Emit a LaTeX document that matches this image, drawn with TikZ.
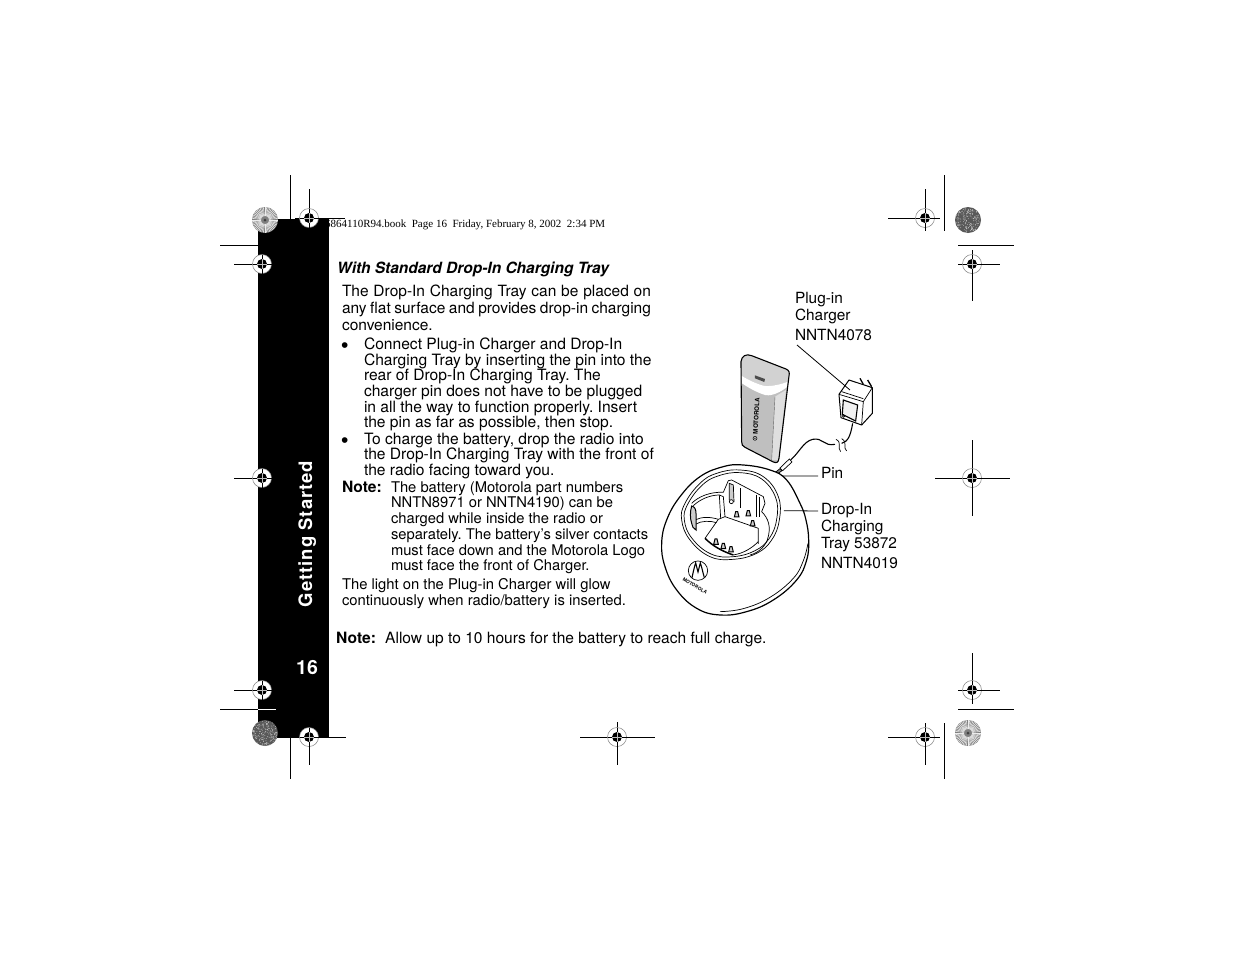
\documentclass[tikz,border=0pt]{standalone}
\usepackage{fontspec}
\setmainfont{TeX Gyre Heros}
\newfontfamily\serifhead{Liberation Serif}
\newfontfamily\bulletfont{Liberation Sans}
\tikzset{
  textblock/.style={anchor=north west,inner sep=0pt,outer sep=0pt,align=left,font=\frenchspacing\fontsize{15.6}{15.6}\selectfont},
  noteblock/.style={textblock,font=\frenchspacing\fontsize{14.75}{15.7}\selectfont},
  calloutblock/.style={textblock,font=\frenchspacing\fontsize{15.4}{17}\selectfont},
  bulletmark/.style={anchor=base west,inner sep=0pt,outer sep=0pt,font=\bulletfont\fontsize{21}{21}\selectfont},
  leader/.style={black,line width=0.8pt},
  part/.style={black,line width=0.7pt},
  cut/.style={black,line width=0.8pt}
}
\begin{document}
\begin{tikzpicture}[x=1pt,y=-1pt]
\useasboundingbox [fill=white] (0,0) rectangle (1235,954);

% page header, cut off by the black band
\node [anchor=base west,inner sep=0pt,font=\serifhead\fontsize{11}{12}\selectfont] (header) at (325,227) {6864110R94.book\ \ Page 16\ \ Friday, February 8, 2002\ \ 2:34 PM};

% black band
\fill [black] (258,219) rectangle (328.5,738);
\node [rotate=90,anchor=base west,inner sep=0pt,text=white,font=\bfseries\fontsize{18.5}{19}\selectfont] (bandtitle) at (312,607.5) {G\kern1pt e\kern1pt t\kern1pt t\kern1pt i\kern1pt n\kern1pt g\kern1pt\ S\kern1pt t\kern1pt a\kern1pt r\kern1pt t\kern1pt e\kern1pt d};
\node [anchor=base,inner sep=0pt,text=white,font=\bfseries\fontsize{19.5}{20}\selectfont] (pagenum) at (307,674) {16};

% crop lines
\draw [cut] (290,175) -- (290,219);
\draw [cut] (220,245) -- (258,245);
\draw [cut] (220,709) -- (258,709);
\draw [white,line width=0.8pt] (258,709) -- (276,709);
\draw [cut] (290,738) -- (290,779);
\draw [cut] (944,175) -- (944,231);
\draw [cut] (958,245) -- (1014,245);
\draw [cut] (958,709) -- (1014,709);
\draw [cut] (944,723) -- (944,779);

% line parts of the register marks
\draw [cut] (309,189) -- (309,219);
\draw [cut] (295,218) -- (345,218);
\draw [cut] (234,264) -- (258,264);
\draw [cut] (234,478) -- (258,478);
\draw [cut] (234,690) -- (258,690);
\draw [cut] (328,737) -- (346,737);
\draw [cut] (309,738) -- (309,765);
\draw [cut] (580,737) -- (655,737);
\draw [cut] (617,722) -- (617,765);
\draw [cut] (888,218) -- (940,218);
\draw [cut] (925,189) -- (925,231);
\draw [cut] (958,264) -- (1000,264);
\draw [cut] (972,250) -- (972,301);
\draw [cut] (935,478) -- (1010,478);
\draw [cut] (972,440) -- (972,516);
\draw [cut] (958,690) -- (1000,690);
\draw [cut] (972,653) -- (972,704);
\draw [cut] (888,737) -- (940,737);
\draw [cut] (925,723) -- (925,765);

% register marks
\foreach \mx/\my in {309/218,262/264,262/478,262/690,309/737,617/737,925/218,972/264,972/478,972/690,925/737} {
  \draw [gray,fill=white,line width=0.5pt] (\mx,\my) circle [radius=9.5];
  \draw [black,line width=0.8pt] (\mx-9.5,\my) -- (\mx+9.5,\my);
  \draw [black,line width=0.8pt] (\mx,\my-9.5) -- (\mx,\my+9.5);
  \fill [black] (\mx,\my) circle [radius=5];
  \draw [gray!50,line width=0.3pt] (\mx-5,\my) -- (\mx+5,\my);
  \draw [gray!50,line width=0.3pt] (\mx,\my-5) -- (\mx,\my+5);
}

% star targets
\foreach \sx/\sy in {265/220,968/733} {
  \fill [black!50] (\sx,\sy) circle [radius=13];
  \foreach \ang in {0,7.5,...,352.5}
    \draw [white!85!gray,line width=0.55pt] (\sx,\sy) ++(\ang:4) -- ++(\ang:8.7);
  \fill [black!75] (\sx,\sy) circle [radius=1.5];
}
\pgfmathsetseed{16}
\foreach \sx/\sy in {968/220,265/733} {
  \fill [black!65] (\sx,\sy) circle [radius=13];
  \foreach \n in {1,...,170} {
    \pgfmathsetmacro{\ang}{360*rnd}
    \pgfmathsetmacro{\rad}{12.5*sqrt(rnd)}
    \fill [white!70!gray] (\sx,\sy) ++(\ang:\rad) circle [radius=0.4];
  }
}

% main text
\node [anchor=base west,inner sep=0pt,font=\bfseries\itshape\fontsize{15.5}{16}\selectfont] (subhead) at (337,273) {With Standard Drop-In Charging Tray};
\node [calloutblock,font=\frenchspacing\fontsize{15.5}{17}\selectfont] (intro) at (342,285) {{\spaceskip=4.8pt The Drop-In Charging Tray can be placed on}\\{\spaceskip=3.5pt any flat surface and provides drop-in charging}\\convenience.};
\node [bulletmark] (bulletone) at (341,352) {•};
\node [textblock] (stepone) at (364,338) {Connect Plug-in Charger and Drop-In\\Charging Tray by inserting the pin into the\\rear of Drop-In Charging Tray. The\\charger pin does not have to be plugged\\in all the way to function properly. Insert\\the pin as far as possible, then stop.};
\node [bulletmark] (bullettwo) at (341,447) {•};
\node [textblock] (steptwo) at (364,433) {To charge the battery, drop the radio into\\the Drop-In Charging Tray with the front of\\the radio facing toward you.};
\node [textblock,font=\bfseries\fontsize{15.6}{16}\selectfont] (notehead) at (342,481) {Note:};
\node [noteblock] (notebody) at (391,481.5) {The battery (Motorola part numbers\\NNTN8971 or NNTN4190) can be\\charged while inside the radio or\\separately. The battery’s silver contacts\\must face down and the Motorola Logo\\must face the front of Charger.};
\node [noteblock,font=\frenchspacing\fontsize{14.8}{16}\selectfont] (lightnote) at (342,578) {The light on the Plug-in Charger will glow\\continuously when radio/battery is inserted.};
\node [anchor=base west,inner sep=0pt,font=\bfseries\fontsize{15.6}{16}\selectfont] (lasthead) at (336,643) {Note:};
\node [anchor=base west,inner sep=0pt,font=\fontsize{15.55}{16}\selectfont] (lastbody) at (385,643) {Allow up to 10 hours for the battery to reach full charge.};

% callouts
\node [calloutblock] (chargerlabel) at (795,292) {Plug-in\\Charger};
\node [calloutblock] (chargercode) at (795,329) {NNTN4078};
\node [calloutblock] (pinlabel) at (821,467) {Pin};
\node [calloutblock] (traylabel) at (821,503) {Drop-In\\Charging\\Tray 53872};
\node [calloutblock] (traycode) at (821,557) {NNTN4019};

% artwork, in units of a third of a pixel
\begin{scope}[shift={(660,340)},x=0.3333pt,y=-0.3333pt]
  % radio
  \fill [gray!50] (243,65) .. controls (245,48) and (258,40) .. (275,47) -- (378,87) .. controls (388,91) and (389,98) .. (387,108) -- (357,355) .. controls (355,368) and (350,370) .. (340,366) -- (255,322) .. controls (247,318) and (245,314) .. (245,305) -- cycle;
  \fill [gray!35] (243,65) .. controls (245,48) and (258,40) .. (275,47) -- (378,87) .. controls (388,91) and (389,98) .. (387,108) -- (384,125) .. controls (350,138) and (320,140) .. (310,137) .. controls (285,130) and (262,118) .. (244,107) -- cycle;
  \fill [white] (244,107) .. controls (262,118) and (285,130) .. (310,137) .. controls (320,140) and (350,138) .. (384,125) -- (380,142) .. controls (350,165) and (325,168) .. (315,165) .. controls (290,157) and (265,143) .. (246,130) -- cycle;
  \fill [gray!25] (345,170) -- (378,150) -- (355,360) -- (335,360) -- cycle;
  \fill [black!70] (285,106) -- (315,117) -- (313,126) -- (285,115) -- cycle;
  \draw [part,line width=1.1pt,line join=round] (243,65) .. controls (245,48) and (258,40) .. (275,47) -- (378,87) .. controls (388,91) and (389,98) .. (387,108) -- (357,355) .. controls (355,368) and (350,370) .. (340,366) -- (255,322) .. controls (247,318) and (245,314) .. (245,305) -- cycle;
  \draw [black!60,line width=0.4pt] (345,170) -- (335,360);
  \node [rotate=87,inner sep=0pt,font=\bfseries\fontsize{6.2}{7}\selectfont] (radiologo) at (289,228) {MOTOROLA};
  \draw [black,line width=0.5pt] (285,295) circle [radius=6];
  \fill [black] (285,295) circle [radius=2];

  % plug-in charger
  \draw [part,line width=1pt,line join=round,fill=white] (537,163) -- (567,120) -- (637,143) -- (637,220) -- (605,255) -- (543,233) -- cycle;
  \draw [part,line join=round] (537,163) -- (610,185) -- (637,143);
  \draw [part] (610,185) -- (605,255);
  \draw [part] (545,155) -- (610,176);
  \draw [part,line width=1.1pt,fill=gray!10] (550,180) -- (593,195) -- (587,243) -- (547,223) -- cycle;
  \draw [line width=1.3pt] (600,115) -- (610,133);
  \draw [line width=1.3pt] (623,120) -- (635,140);
  \draw [part] (551,228) circle [radius=4];

  % cord and pin
  \draw [black,line width=1.1pt] (578,250) .. controls (572,285) and (565,305) .. (545,310);
  \draw [black,line width=1.1pt] (525,313) .. controls (490,320) and (490,292) .. (458,298) .. controls (430,305) and (420,335) .. (392,360);
  \draw [part] (528,298) .. controls (548,308) and (530,322) .. (542,335);
  \draw [part] (545,296) .. controls (565,308) and (547,322) .. (560,333);
  \draw [part,fill=white] (388,357) -- (396,366) -- (368,392) -- (360,384) -- cycle;
  \draw [part,fill=gray] (360,386) -- (366,392) -- (352,402) -- (346,397) -- cycle;

  % tray
  \draw [black,line width=1.2pt,fill=white] plot [smooth cycle,tension=0.7] coordinates {(190,380) (250,375) (330,390) (380,420) (420,490) (438,540) (446,600) (440,660) (410,720) (340,780) (260,815) (180,825) (110,805) (50,750) (15,680) (5,610) (20,540) (60,470) (120,410)};
  \draw [part] plot [smooth,tension=0.7] coordinates {(444,610) (430,662) (400,715) (330,772) (250,806) (180,815)};
  \draw [part] plot [smooth cycle,tension=0.7] coordinates {(240,390) (310,410) (355,470) (358,540) (335,600) (290,640) (220,658) (150,650) (90,600) (65,540) (75,490) (120,430) (170,400)};
  \draw [part] plot [smooth cycle,tension=0.7] coordinates {(240,398) (305,417) (347,473) (350,538) (328,595) (285,632) (220,650) (153,642) (96,595) (73,540) (83,493) (125,437) (174,408)};

  % well of the tray
  \draw [part] (95,490) .. controls (115,470) and (150,455) .. (190,457) -- (205,422) -- (215,420) -- (310,470) -- (315,490) -- (305,515) .. controls (325,535) and (335,560) .. (322,600) .. controls (312,625) and (290,640) .. (270,645);
  \draw [part] (100,497) .. controls (120,478) and (150,465) .. (178,465);
  \draw [part] (178,465) -- (190,470) -- (195,530) -- (295,565) -- (295,612);
  \draw [part] (178,465) -- (182,535);
  \draw [part] (105,540) .. controls (125,530) and (150,530) .. (175,538) -- (195,530);
  \draw [part] (108,552) .. controls (125,542) and (150,542) .. (170,548);
  \draw [part] (175,538) -- (135,595);
  \draw [black,line width=1.5pt] (135,595) .. controls (160,620) and (190,635) .. (220,645);
  \draw [part] (220,645) .. controls (250,640) and (275,625) .. (295,605);
  \draw [part] (240,445) -- (240,505);
  \draw [part] (290,465) -- (290,530);
  \draw [part] (297,470) -- (297,530);
  \draw [part,fill=gray!40] (208,430) -- (220,435) -- (222,485) -- (208,480) -- cycle;
  \draw [part,fill=white] (214,485) circle [radius=6];
  \draw [part,line width=1pt,fill=gray!40] (95,498) .. controls (105,500) and (108,510) .. (108,520) -- (108,570) .. controls (100,565) and (96,560) .. (95,550) .. controls (90,535) and (90,515) .. (95,498) -- cycle;
  \foreach \cx/\cy in {230/523,265/520,278/550,168/605,190/618,213/628}
    \draw [black,line width=1pt,fill=gray!40] (\cx-7,\cy+8) -- (\cx-3,\cy-8) -- (\cx+3,\cy-8) -- (\cx+7,\cy+8) -- cycle;

  % tray logo
  \draw [part] (114,692) circle [radius=29];
  \draw [line width=1.1pt] (96,713) .. controls (100,695) and (103,680) .. (107,669) -- (114,696) -- (121,669) .. controls (125,680) and (128,695) .. (133,713);
  \node [rotate=-30,inner sep=0pt,font=\bfseries\fontsize{4.7}{5}\selectfont] (traylogo) at (105,738) {MOTOROLA};

  \coordinate (chargerend) at (570,150);
  \coordinate (pinend) at (366,408);
  \coordinate (trayend) at (372,512);
\end{scope}

% leader lines
\coordinate (chargerstart) at (797,345);
\coordinate (pinstart) at (818,476);
\coordinate (traystart) at (818,511);
\draw [leader] (chargerstart) -- (chargerend);
\draw [leader] (pinstart) -- (pinend);
\draw [leader] (traystart) -- (trayend);
\end{tikzpicture}
\end{document}
